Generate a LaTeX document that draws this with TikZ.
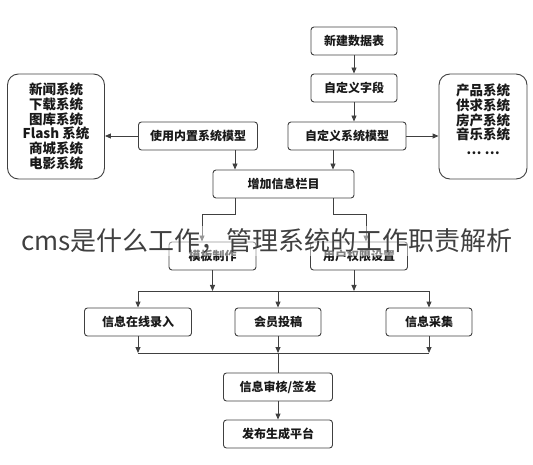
\documentclass[tikz,border=0pt]{standalone}
\usepackage{fontspec}
\setmainfont{Noto Sans CJK SC}
\usetikzlibrary{arrows.meta}
\tikzset{
  box/.style={draw=black!75,line width=0.9pt,rounded corners=3pt,minimum height=28pt,
    inner sep=0pt,text=black!90,font=\bfseries\fontsize{12}{14}\selectfont},
  sysbox/.style={draw=black!75,line width=0.9pt,rounded corners=11pt,align=center,
    inner sep=0pt,text=black!90,font=\bfseries\fontsize{13.5}{14.7}\selectfont},
  link/.style={draw=black!75,line width=0.9pt},
  arr/.style={link,-{Triangle[length=6pt,width=5pt]}}
}
\begin{document}
\begin{tikzpicture}[x=1pt,y=-1pt]
  \useasboundingbox (0,0) rectangle (533,465);
  % boxes
  \node[box,minimum width=86pt] (newtable) at (354,41) {新建数据表};
  \node[box,minimum width=86pt] (field) at (354,88) {自定义字段};
  \node[box,minimum width=119pt] (builtin) at (198,136) {使用内置系统模型};
  \node[box,minimum width=118pt] (custom) at (347,136) {自定义系统模型};
  \node[box,minimum width=141pt] (column) at (283.5,184) {增加信息栏目};
  \node[box,minimum width=87pt] (template) at (212.5,256) {模板制作};
  \node[box,minimum width=97pt] (rights) at (359,256) {用户权限设置};
  \node[box,minimum width=107pt] (input) at (138,322) {信息在线录入};
  \node[box,minimum width=86pt] (submit) at (278,322) {会员投稿};
  \node[box,minimum width=86pt] (collect) at (429,322) {信息采集};
  \node[box,minimum width=109pt] (review) at (278,387) {信息审核/签发};
  \node[box,minimum width=109pt] (publish) at (278,434) {发布生成平台};
  \node[sysbox,minimum width=97pt,minimum height=105pt] (leftsys) at (56,126.5)
    {新闻系统\\下载系统\\图库系统\\Flash 系统\\商城系统\\电影系统};
  \node[sysbox,minimum width=88pt,minimum height=105pt] (rightsys) at (483,126.5)
    {产品系统\\供求系统\\房产系统\\音乐系统\\… …\\~};
  % connectors
  \coordinate (xl) at (235,0);
  \coordinate (xr) at (333,0);
  \coordinate (split) at (0,214);
  \coordinate (bus) at (0,291);
  \coordinate (join) at (0,353);
  \draw[arr] (newtable) -- (field);
  \draw[arr] (field.south) -- (field.south |- custom.north);
  \draw[arr] (builtin.west) -- (builtin.west -| leftsys.east);
  \draw[arr] (custom.east) -- (custom.east -| rightsys.west);
  \draw[arr] (xl |- builtin.south) -- (xl |- column.north);
  \draw[arr] (xr |- custom.south) -- (xr |- column.north);
  \draw[arr] (xl |- column.south) -- (xl |- split) -| ([xshift=-10.5pt]template.north);
  \draw[arr] (xr |- column.south) -- (xr |- split) -| ([xshift=7pt]rights.north);
  \draw[link] (input |- bus) -- (collect |- bus);
  \draw[arr] (template.south) -- (template |- bus);
  \draw[arr] ([xshift=-5pt]rights.south) -- ([xshift=-5pt]rights |- bus);
  \foreach \n in {input,submit,collect}
    \draw[arr] (\n |- bus) -- (\n.north);
  \draw[link] (input |- join) -- (collect |- join);
  \foreach \n in {input,submit,collect}
    \draw[arr] (\n.south) -- (\n |- join);
  \draw[link] (submit |- join) -- (review.north);
  \draw[arr] (review) -- (publish);
  % overlay text
  \node[fill=white,fill opacity=0.45,text opacity=1,text=black!75,inner sep=3pt,
    font=\fontsize{26}{26}\selectfont] (caption) at (267,241)
    {cms是什么工作，管理系统的工作职责解析};
\end{tikzpicture}
\end{document}
